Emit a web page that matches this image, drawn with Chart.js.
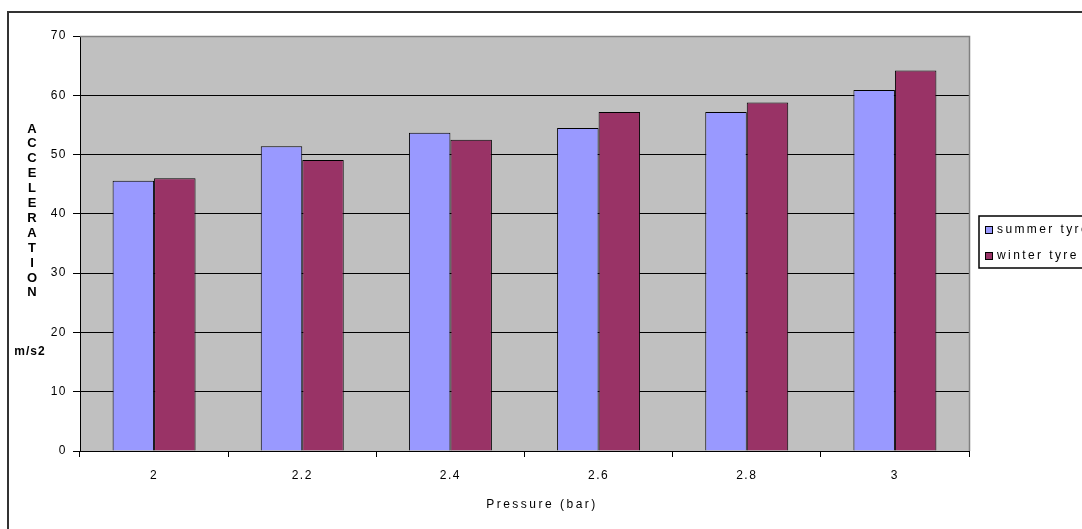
<!DOCTYPE html>
<html>
<head>
<meta charset="utf-8">
<script src="https://cdn.jsdelivr.net/npm/chart.js@4.4.1/dist/chart.umd.min.js"></script>
<style>
  html, body { margin: 0; padding: 0; background: #ffffff; }
  #wrap { width: 1082px; height: 529px; }
</style>
</head>
<body>
<div id="wrap"><canvas id="c" width="1082" height="529"></canvas></div>
<script>
// Pressure categories and measured acceleration per tyre type
const pressures = ['2', '2.2', '2.4', '2.6', '2.8', '3'];
const summerTyre = [45.6, 51.4, 53.7, 54.5, 57.2, 60.9];
const winterTyre = [46.0, 49.1, 52.5, 57.2, 58.8, 64.2];
const seriesNames = ['summer tyre', 'winter tyre'];
const yTicks = [0, 10, 20, 30, 40, 50, 60, 70];
const yTitleWord = 'ACCELERATION';
const yUnit = 'm/s2';
const xTitle = 'Pressure (bar)';

const FONT = '"Liberation Sans", Arial, sans-serif';

// Plot background, outer frame, axis titles and a boxed legend
const decorations = {
  id: 'decorations',
  beforeDraw(chart) {
    const { ctx, chartArea: a } = chart;
    ctx.save();
    ctx.fillStyle = '#ffffff';
    ctx.fillRect(0, 0, chart.width, chart.height);
    ctx.fillStyle = '#c0c0c0';
    ctx.fillRect(a.left, a.top, a.right - a.left, a.bottom - a.top);
    ctx.restore();
    // wide spacing for all tick text
    ctx.letterSpacing = '1.5px';
  },
  afterDraw(chart) {
    const { ctx, chartArea: a } = chart;
    ctx.save();
    // outer frame
    ctx.strokeStyle = '#333333';
    ctx.lineWidth = 2;
    ctx.beginPath();
    ctx.moveTo(8, chart.height + 2);
    ctx.lineTo(8, 12);
    ctx.lineTo(chart.width + 2, 12);
    ctx.stroke();

    // plot area top and right edges
    ctx.strokeStyle = '#808080';
    ctx.lineWidth = 1.5;
    ctx.beginPath();
    ctx.moveTo(a.left, a.top + 0.5);
    ctx.lineTo(a.right + 0.5, a.top + 0.5);
    ctx.lineTo(a.right + 0.5, a.bottom);
    ctx.stroke();

    // vertical stacked y title
    ctx.fillStyle = '#000000';
    ctx.letterSpacing = '0px';
    ctx.font = 'bold 13px ' + FONT;
    ctx.textAlign = 'center';
    ctx.textBaseline = 'middle';
    const letters = yTitleWord.split('');
    letters.forEach((ch, i) => ctx.fillText(ch, 32, 129 + i * 14.9));
    ctx.letterSpacing = '1px';
    ctx.font = 'bold 12px ' + FONT;
    ctx.fillText(yUnit, 30, 352);

    // x title
    ctx.letterSpacing = '2.5px';
    ctx.font = '12px ' + FONT;
    ctx.fillText(xTitle, 542, 505);

    // legend
    const lx = 979, ly = 216, lh = 52;
    ctx.strokeStyle = '#000000';
    ctx.lineWidth = 1.5;
    ctx.strokeRect(lx, ly, chart.width - lx + 5, lh);
    ctx.textAlign = 'left';
    ctx.letterSpacing = '2.4px';
    ctx.font = '12px ' + FONT;
    chart.data.datasets.forEach((ds, i) => {
      const cy = ly + 14 + i * 26;
      ctx.fillStyle = ds.backgroundColor;
      ctx.fillRect(985, cy - 4, 7, 7);
      ctx.strokeStyle = '#000000';
      ctx.lineWidth = 1;
      ctx.strokeRect(985.5, cy - 3.5, 7, 7);
      ctx.fillStyle = '#000000';
      ctx.fillText(ds.label, 997, cy);
    });
    ctx.restore();
  }
};

new Chart(document.getElementById('c'), {
  type: 'bar',
  data: {
    labels: pressures,
    datasets: [
      { label: seriesNames[0], data: summerTyre, backgroundColor: '#9999ff',
        borderColor: '#000000', borderWidth: 1 },
      { label: seriesNames[1], data: winterTyre, backgroundColor: '#993366',
        borderColor: '#000000', borderWidth: 1 }
    ]
  },
  options: {
    responsive: false,
    animation: false,
    devicePixelRatio: 1,
    layout: { padding: { left: 0, right: 113, top: 36, bottom: 0 } },
    datasets: { bar: { barPercentage: 1.0, categoryPercentage: 0.56 } },
    plugins: {
      legend: { display: false },
      tooltip: { enabled: false }
    },
    scales: {
      x: {
        afterFit(s) { s.height = 78; },
        grid: {
          offset: true, drawOnChartArea: false, drawTicks: true,
          tickLength: 6, color: '#000000', lineWidth: 1
        },
        border: { color: '#000000', width: 1 },
        ticks: { color: '#000000', font: { family: FONT, size: 12 }, padding: 11 }
      },
      y: {
        min: 0, max: 70,
        afterFit(s) { s.width = 80; },
        afterBuildTicks(s) { s.ticks = yTicks.map(v => ({ value: v })); },
        grid: {
          color: '#000000', lineWidth: 1, drawTicks: true, tickLength: 7
        },
        border: { color: '#000000', width: 1 },
        ticks: { color: '#000000', font: { family: FONT, size: 12 }, padding: 6 }
      }
    }
  },
  plugins: [decorations]
});
</script>
</body>
</html>
